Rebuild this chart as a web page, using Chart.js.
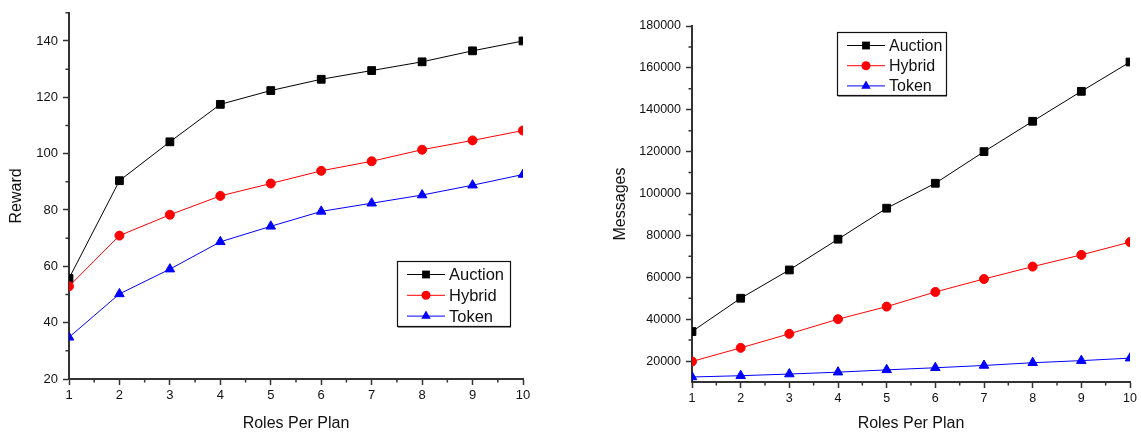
<!DOCTYPE html>
<html>
<head>
<meta charset="utf-8">
<script src="https://cdn.jsdelivr.net/npm/chart.js@4.4.1/dist/chart.umd.min.js"></script>
<style>
  html, body { margin: 0; padding: 0; background: #fff; }
  #wrap { position: relative; width: 1141px; height: 433px; }
  .panel { position: absolute; top: 0; }
  canvas { display: block; }
</style>
</head>
<body>
<div id="wrap">
  <div class="panel" style="left:0"><canvas id="rewardChart" width="580" height="433"></canvas></div>
  <div class="panel" style="left:580px"><canvas id="messageChart" width="561" height="433"></canvas></div>
</div>
<script>
// x values shared by both panels
const roles = [1, 2, 3, 4, 5, 6, 7, 8, 9, 10];

// Reward per plan size
const rewardAuction = [55.7, 90.4, 104.2, 117.5, 122.4, 126.4, 129.5, 132.6, 136.5, 140.0];
const rewardHybrid  = [52.9, 70.9, 78.3, 85.0, 89.4, 93.9, 97.3, 101.4, 104.7, 108.2];
const rewardToken   = [34.8, 50.2, 59.0, 68.7, 74.2, 79.5, 82.4, 85.3, 88.8, 92.6];
const rewardTicks   = [20, 40, 60, 80, 100, 120, 140];

// Messages exchanged per plan size
const msgAuction = [34100, 50000, 63500, 78200, 93000, 104900, 120000, 134500, 148800, 162800];
const msgHybrid  = [19800, 26300, 33000, 40000, 46000, 53000, 59200, 65100, 70700, 76800];
const msgToken   = [12400, 13000, 13800, 14700, 15800, 16800, 17900, 19200, 20200, 21400];
const msgTicks   = [20000, 40000, 60000, 80000, 100000, 120000, 140000, 160000, 180000];

const FONT = '"Liberation Sans", Arial, sans-serif';
const AXIS = '#333';
const TEXT = '#111';

function drawMarker(ctx, style, cx, cy, r, color) {
  ctx.fillStyle = color;
  ctx.beginPath();
  if (style === 'rect') {
    const s = r * Math.SQRT1_2;
    ctx.rect(cx - s, cy - s, 2 * s, 2 * s);
  } else if (style === 'triangle') {
    ctx.moveTo(cx, cy - r);
    ctx.lineTo(cx + 0.866 * r, cy + 0.5 * r);
    ctx.lineTo(cx - 0.866 * r, cy + 0.5 * r);
    ctx.closePath();
  } else {
    ctx.arc(cx, cy, r, 0, Math.PI * 2);
  }
  ctx.fill();
}

// small ticks halfway between the labelled ones
const minorTicks = {
  id: 'minorTicks',
  afterDraw(chart, args, opts) {
    const ctx = chart.ctx;
    const { left, bottom } = chart.chartArea;
    const xs = chart.scales.x, ys = chart.scales.y;
    ctx.save();
    ctx.strokeStyle = AXIS;
    ctx.lineWidth = 1.5;
    ctx.beginPath();
    opts.x.forEach(v => {
      const px = xs.getPixelForValue(v);
      ctx.moveTo(px, bottom);
      ctx.lineTo(px, bottom + 3.5);
    });
    opts.y.forEach(v => {
      const py = ys.getPixelForValue(v);
      ctx.moveTo(left, py);
      ctx.lineTo(left - 3.5, py);
    });
    ctx.stroke();
    ctx.restore();
  }
};

// framed legend placed inside the plot
const boxLegend = {
  id: 'boxLegend',
  afterDraw(chart, args, opts) {
    const ctx = chart.ctx;
    const { x, y, w, h, gap, size } = opts;
    ctx.save();
    ctx.fillStyle = '#9a9a9a';
    ctx.fillRect(x + 1, y + h, w, 2);
    ctx.fillStyle = '#fff';
    ctx.fillRect(x, y, w, h);
    ctx.strokeStyle = '#111';
    ctx.lineWidth = 1.2;
    ctx.strokeRect(x + 0.5, y + 0.5, w, h);
    chart.data.datasets.forEach((ds, i) => {
      const cy = y + 13.5 + i * gap;
      ctx.strokeStyle = ds.borderColor;
      ctx.lineWidth = 1;
      ctx.beginPath();
      ctx.moveTo(x + 10, cy);
      ctx.lineTo(x + 48, cy);
      ctx.stroke();
      drawMarker(ctx, ds.pointStyle, x + 29, cy, ds.pointRadius, ds.backgroundColor);
      ctx.fillStyle = TEXT;
      ctx.font = size + 'px ' + FONT;
      ctx.textBaseline = 'middle';
      ctx.fillText(ds.label, x + 52, cy + 1);
    });
    ctx.restore();
  }
};

function series(label, values, color, style, radius, order) {
  return {
    label: label,
    data: roles.map((r, i) => ({ x: r, y: values[i] })),
    borderColor: color,
    backgroundColor: color,
    borderWidth: 1,
    pointStyle: style,
    pointRadius: radius,
    pointBorderWidth: 1,
    pointBackgroundColor: color,
    pointBorderColor: color,
    tension: 0,
    clip: 0,
    order: order
  };
}

function makeChart(id, p) {
  const ctx = document.getElementById(id).getContext('2d');
  return new Chart(ctx, {
    type: 'line',
    data: {
      datasets: [
        series('Auction', p.auction, '#000000', 'rect', 5.5, 3),
        series('Hybrid', p.hybrid, '#ff0000', 'circle', 4.5, 2),
        series('Token', p.token, '#0000ff', 'triangle', 5.5, 1)
      ]
    },
    options: {
      responsive: false,
      animation: false,
      devicePixelRatio: 1,
      layout: { padding: p.padding },
      plugins: {
        legend: { display: false },
        tooltip: { enabled: false },
        minorTicks: {
          x: roles.slice(1).map(r => r - 0.5),
          y: p.minorY
        },
        boxLegend: p.legend
      },
      scales: {
        x: {
          type: 'linear',
          min: 1,
          max: 10,
          afterBuildTicks: s => { s.ticks = roles.map(v => ({ value: v })); },
          afterFit: s => { s.height = p.xHeight; },
          ticks: {
            padding: 3,
            color: TEXT,
            autoSkip: false,
            maxRotation: 0,
            font: { size: p.tickSize, family: FONT },
            callback: v => String(v)
          },
          grid: { drawOnChartArea: false, tickLength: 6, tickWidth: 1.5, tickColor: AXIS },
          border: { color: AXIS, width: 2 },
          title: {
            display: true,
            text: 'Roles Per Plan',
            color: TEXT,
            font: { size: 16, family: FONT },
            padding: { top: 0, bottom: 0 }
          }
        },
        y: {
          type: 'linear',
          min: p.yMin,
          max: p.yMax,
          afterBuildTicks: s => { s.ticks = p.ticks.map(v => ({ value: v })); },
          afterFit: s => { s.width = p.yWidth; },
          ticks: {
            padding: 5,
            color: TEXT,
            font: { size: p.tickSize, family: FONT },
            callback: v => String(v)
          },
          grid: { drawOnChartArea: false, tickLength: 6, tickWidth: 1.5, tickColor: AXIS },
          border: { color: AXIS, width: 2 },
          title: {
            display: true,
            text: p.yTitle,
            color: TEXT,
            font: { size: 16, family: FONT },
            padding: { top: p.yTitlePad, bottom: 0 }
          }
        }
      }
    },
    plugins: [minorTicks, boxLegend]
  });
}

document.addEventListener('DOMContentLoaded', function () {
  makeChart('rewardChart', {
    auction: rewardAuction,
    hybrid: rewardHybrid,
    token: rewardToken,
    ticks: rewardTicks,
    minorY: rewardTicks.map(v => v + 10),
    yMin: 20,
    yMax: 150,
    yTitle: 'Reward',
    yTitlePad: 6.5,
    yWidth: 69,
    xHeight: 54,
    tickSize: 13,
    padding: { top: 10, right: 57, left: 0, bottom: 0 },
    legend: { x: 397, y: 261, w: 113, h: 65, gap: 20.8, size: 16.5 }
  });

  makeChart('messageChart', {
    auction: msgAuction,
    hybrid: msgHybrid,
    token: msgToken,
    ticks: msgTicks,
    minorY: msgTicks.slice(0, -1).map(v => v + 10000),
    yMin: 10000,
    yMax: 180000,
    yTitle: 'Messages',
    yTitlePad: 31,
    yWidth: 112,
    xHeight: 51,
    tickSize: 12.5,
    padding: { top: 26, right: 11, left: 0, bottom: 0 },
    legend: { x: 257, y: 32, w: 109, h: 63, gap: 20.2, size: 16 }
  });
});
</script>
</body>
</html>
